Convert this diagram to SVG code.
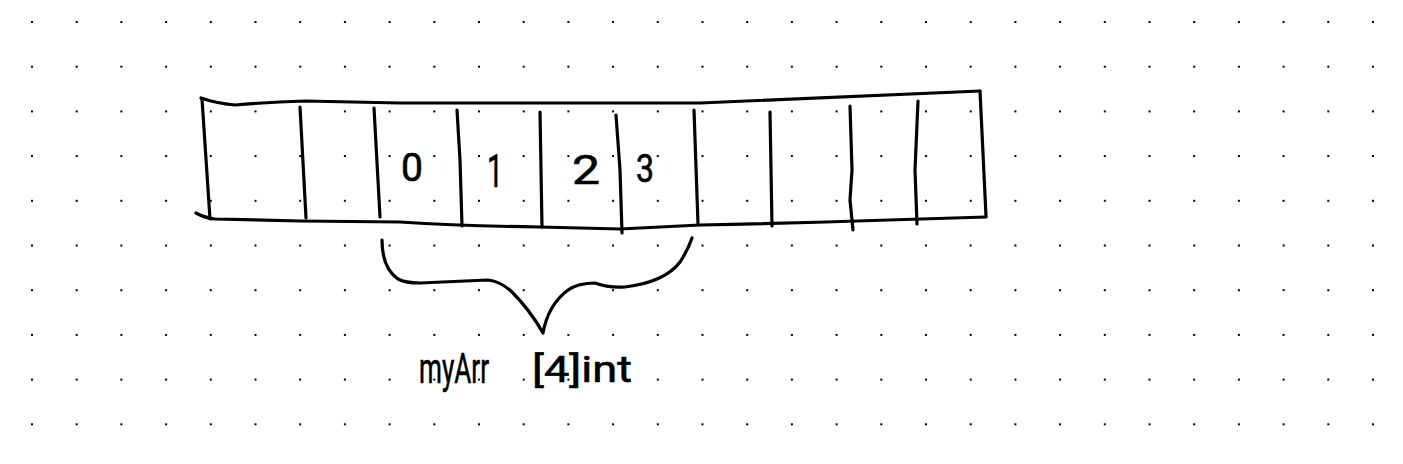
<svg xmlns="http://www.w3.org/2000/svg" width="1403" height="464" viewBox="0 0 1403 464">
<defs>
<style>
.ink{fill:none;stroke:#000;stroke-width:3.2;stroke-linecap:round;stroke-linejoin:round}
.hand{font-family:Roboto,"Liberation Sans",Arial,sans-serif;fill:#000;stroke:#000;stroke-width:0.6}
</style>
<pattern id="dots" x="31" y="21" width="44.7" height="44.7" patternUnits="userSpaceOnUse">
<rect x="0" y="0" width="2" height="2" fill="#000"/>
</pattern>
</defs>
<rect width="1403" height="464" fill="#fff"/>
<rect width="1403" height="464" fill="url(#dots)"/>
<g id="array">
<path class="ink" d="M201,98 Q215,103 235,105 Q270,102 305,101 L400,103 L700,103 Q840,97 980,91"/>
<path class="ink" d="M196,213 Q205,218 215,219 L300,221 L400,222 Q460,226 540,227 L620,229 L700,225 Q840,222 986,217"/>
<path class="ink" d="M202,99 L210,219"/>
<path class="ink" d="M980,91 L986,216"/>
<path class="ink" d="M300,107 L306,218"/>
<path class="ink" d="M374,108 L380,217"/>
<path class="ink" d="M457,110 L460,160 L462,226"/>
<path class="ink" d="M540,112 L541,170 L542,227"/>
<path class="ink" d="M616,115 L620,170 L622,233"/>
<path class="ink" d="M694,110 L698,224"/>
<path class="ink" d="M770,112 L772,226"/>
<path class="ink" d="M850,106 L852,170 L850,200 L853,230"/>
<path class="ink" d="M918,101 L915,170 L917,224"/>
</g>
<g id="labels">
<text class="hand" x="401" y="181" font-size="38" textLength="22" lengthAdjust="spacingAndGlyphs">0</text>
<text class="hand" x="487" y="187" font-size="46" textLength="16" lengthAdjust="spacingAndGlyphs">1</text>
<text class="hand" x="572" y="184" font-size="40" textLength="28" lengthAdjust="spacingAndGlyphs">2</text>
<text class="hand" x="636" y="182" font-size="38" textLength="18" lengthAdjust="spacingAndGlyphs">3</text>
</g>
<g id="connectors">
<path class="ink" d="M382,240 Q382,268 398,279 Q405,283 420,283 L488,280 Q500,281 512,292 Q530,310 543,333 Q548,305 568,290 Q578,283 595,283 Q608,288 625,287 Q665,282 680,262 Q688,250 692,238"/>
</g>
<g id="name">
<text class="hand" x="419" y="383" font-size="42" textLength="70" lengthAdjust="spacingAndGlyphs">myArr</text>
<text class="hand" x="532" y="382" font-size="36" textLength="100" lengthAdjust="spacingAndGlyphs">[4]int</text>
</g>
</svg>
